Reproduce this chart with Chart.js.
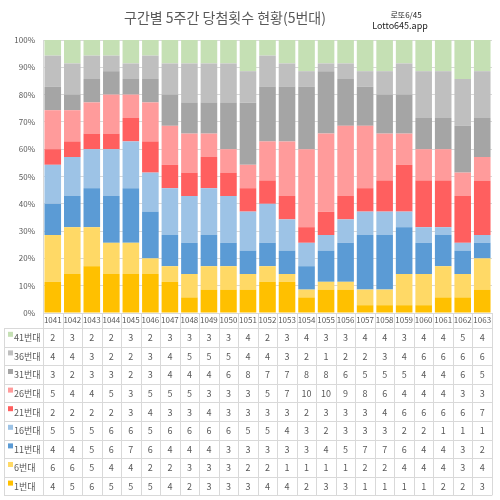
<!DOCTYPE html>
<html>
<head>
<meta charset="utf-8">
<script src="https://cdn.jsdelivr.net/npm/chart.js@4.4.1/dist/chart.umd.min.js"></script>
<style>
  body { margin: 0; background: #fff; }
  #wrap { width: 500px; height: 500px; }
</style>
</head>
<body>
<div id="wrap"><canvas id="myChart" width="500" height="500"></canvas></div>
<script>
// draw numbers (x categories)
const draws = ['1041','1042','1043','1044','1045','1046','1047','1048','1049','1050','1051','1052',
               '1053','1054','1055','1056','1057','1058','1059','1060','1061','1062','1063'];

// 5-week hit counts per number band
const band1  = [4,5,6,5,5,5,4,2,3,3, 3,4,4,2,3,3,1,1,1,1,2,2,3];
const band6  = [6,6,5,4,4,2,2,3,3,3, 2,2,1,1,1,1,2,2,4,4,4,3,4];
const band11 = [4,4,5,6,7,6,4,4,4,3, 3,3,3,3,4,5,7,7,6,4,4,3,2];
const band16 = [5,5,5,6,6,5,6,6,6,6, 5,5,4,3,2,3,3,3,2,2,1,1,1];
const band21 = [2,2,2,2,3,4,3,3,4,3, 3,3,3,2,3,3,3,4,6,6,6,6,7];
const band26 = [5,4,4,5,3,5,5,5,3,3, 3,5,7,10,10,9,8,6,4,4,4,3,3];
const band31 = [3,2,3,3,2,3,4,4,4,6, 8,7,7,8,8,6,5,5,5,4,4,6,5];
const band36 = [4,4,3,2,2,3,4,5,5,5, 4,4,3,2,1,2,2,3,4,6,6,6,6];
const band41 = [2,3,2,2,3,2,3,3,3,3, 4,2,3,4,3,3,4,4,3,4,4,5,4];

const bandNames  = ['1번대','6번대','11번대','16번대','21번대','26번대','31번대','36번대','41번대'];
const bandValues = [band1, band6, band11, band16, band21, band26, band31, band36, band41];
const bandColors = ['#FFC000','#FFD966','#5B9BD5','#9DC3E6','#FF5F5F','#FF9B9B','#A5A5A5','#BFBFBF','#C5E0B4'];

const yTicks = [0,10,20,30,40,50,60,70,80,90,100];

const FONT = '"Noto Sans CJK KR", "Noto Sans", sans-serif';
const TEXT = '#595959';
const LINE = '#d9d9d9';

// totals per draw, used to turn counts into 100% stacks
const totals = draws.map((d, i) => bandValues.reduce((s, arr) => s + arr[i], 0));

const datasets = bandNames.map((name, k) => ({
  label: name,
  data: bandValues[k].map((v, i) => v / totals[i] * 100),
  backgroundColor: bandColors[k],
  borderWidth: 0,
  barPercentage: 0.85,
  categoryPercentage: 1.0
}));

// data table under the plot + title text
const tablePlugin = {
  id: 'dataTable',
  afterDraw(chart) {
    const ctx = chart.ctx;
    const xs = chart.scales.x;
    const area = chart.chartArea;
    const tableTop = 328, rowH = 18.6, tableLeft = 4;
    const right = area.right;
    const nRows = bandNames.length;
    const bottom = tableTop + rowH * nRows;
    const half = (xs.getPixelForValue(1) - xs.getPixelForValue(0)) / 2;

    ctx.save();
    ctx.strokeStyle = LINE;
    ctx.lineWidth = 1;
    ctx.beginPath();
    for (let r = 0; r <= nRows; r++) {
      const y = Math.round(tableTop + r * rowH) + 0.5;
      ctx.moveTo(tableLeft, y); ctx.lineTo(right, y);
    }
    ctx.moveTo(tableLeft + 0.5, tableTop); ctx.lineTo(tableLeft + 0.5, bottom);
    for (let i = 0; i <= draws.length; i++) {
      const x = Math.round(xs.getPixelForValue(i) - half) + 0.5;
      ctx.moveTo(x, area.bottom); ctx.lineTo(x, bottom);
    }
    ctx.stroke();

    // rows: 41번대 at top, 1번대 at bottom
    ctx.textBaseline = 'middle';
    for (let r = 0; r < nRows; r++) {
      const k = nRows - 1 - r;
      const cy = tableTop + r * rowH + rowH / 2 + 0.5;
      ctx.fillStyle = bandColors[k];
      ctx.fillRect(8, cy - 6, 5, 5);
      ctx.fillStyle = TEXT;
      ctx.font = '9px ' + FONT;
      ctx.textAlign = 'left';
      ctx.fillText(bandNames[k], 14, cy);
      ctx.textAlign = 'center';
      bandValues[k].forEach((v, i) => {
        ctx.fillText(String(v), xs.getPixelForValue(i), cy);
      });
    }

    // title
    ctx.fillStyle = TEXT;
    ctx.textAlign = 'center';
    ctx.font = '14px ' + FONT;
    ctx.fillText('구간별 5주간 당첨횟수 현황(5번대)', 225, 18);
    ctx.fillStyle = '#222';
    ctx.font = '8px ' + FONT;
    ctx.fillText('로또6/45', 406, 15);
    ctx.font = '9px ' + FONT;
    ctx.fillText('Lotto645.app', 400, 26);
    ctx.restore();
  }
};

new Chart(document.getElementById('myChart'), {
  type: 'bar',
  data: { labels: draws, datasets: datasets },
  options: {
    responsive: false,
    animation: false,
    devicePixelRatio: 1,
    layout: { padding: { top: 40, left: 0, right: 8, bottom: 172 } },
    plugins: {
      legend: { display: false },
      tooltip: { enabled: false }
    },
    scales: {
      x: {
        stacked: true,
        grid: { display: false, drawTicks: false, tickLength: 0 },
        border: { color: LINE },
        ticks: { color: TEXT, font: { family: FONT, size: 8 }, padding: 2, maxRotation: 0, autoSkip: false },
        afterFit(scale) { scale.height = 15; }
      },
      y: {
        stacked: true,
        min: 0,
        max: 100,
        afterBuildTicks(scale) { scale.ticks = yTicks.map(v => ({ value: v })); },
        grid: { color: LINE, drawTicks: false },
        border: { color: LINE },
        ticks: { color: TEXT, font: { family: FONT, size: 8 }, padding: 8, callback: v => v + '%' },
        afterFit(scale) { scale.width = 43; }
      }
    }
  },
  plugins: [tablePlugin]
});
</script>
</body>
</html>
